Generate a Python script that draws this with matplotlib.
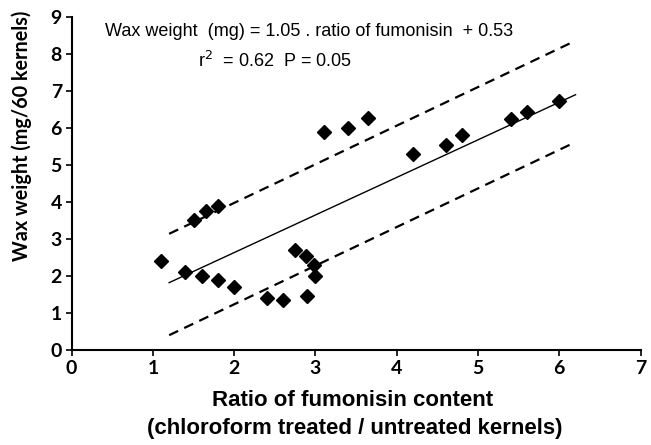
import matplotlib
matplotlib.use('Agg')
import matplotlib.pyplot as plt
import numpy as np

# data
ratio = [1.1, 1.4, 1.5, 1.6, 1.65, 1.8, 1.8, 2.0, 2.4, 2.6, 2.75, 2.88, 2.9, 2.98, 3.0,
         3.1, 3.4, 3.65, 4.2, 4.6, 4.8, 5.4, 5.6, 6.0]
wax = [2.4, 2.1, 3.5, 2.0, 3.75, 3.9, 1.9, 1.7, 1.4, 1.35, 2.7, 2.55, 1.45, 2.3, 2.0,
       5.9, 6.0, 6.27, 5.3, 5.55, 5.8, 6.25, 6.42, 6.72]

line_x = [1.2, 6.2]
fit_y = [1.82, 6.9]
upper_y = [3.14, 8.36]
lower_y = [0.40, 5.62]

xticks = [0, 1, 2, 3, 4, 5, 6, 7]
yticks = [0, 1, 2, 3, 4, 5, 6, 7, 8, 9]

eq_text = "Wax weight  (mg) = 1.05 . ratio of fumonisin  + 0.53"
r2_text = r"r$^{2}$  = 0.62  P = 0.05"

tickFont = 'Lato'
labelFont = 'Liberation Sans'
plainFont = 'Liberation Sans'

fig = plt.figure(figsize=(6.51, 4.45), dpi=100)
ax = fig.add_axes([0.110, 0.2135, 0.874, 0.7483])

ax.plot(line_x, upper_y, color='black', linestyle=(0, (4.5, 3)), linewidth=1.6)
ax.plot(line_x, lower_y, color='black', linestyle=(0, (4.5, 3)), linewidth=1.6)
ax.plot(line_x, fit_y, color='black', linewidth=1.0)
ax.plot(ratio, wax, linestyle='none', marker='D', markersize=7.5, color='black')

ax.set_xlim(0, 7)
ax.set_ylim(0, 9)
ax.set_xticks(xticks)
ax.set_yticks(yticks)
ax.set_xticklabels([str(t) for t in xticks], fontfamily=tickFont, fontweight='bold', fontsize=14)
ax.set_yticklabels([str(t) for t in yticks], fontfamily=tickFont, fontweight='bold', fontsize=14)
ax.tick_params(direction='out', length=4, width=1.2, color='black', pad=3)

for side in ['top', 'right']:
    ax.spines[side].set_visible(False)
for side in ['left', 'bottom']:
    ax.spines[side].set_linewidth(1.5)

ax.set_ylabel('Wax weight (mg/60 kernels)', fontfamily=tickFont, fontweight='bold', fontsize=14.2)
ax.yaxis.set_label_coords(-0.070, 0.643)

ax.text(0.493, -0.153, 'Ratio of fumonisin content', transform=ax.transAxes, ha='center', va='center',
        fontfamily=labelFont, fontweight='bold', fontsize=16)
ax.text(0.498, -0.237, '(chloroform treated / untreated kernels)', transform=ax.transAxes, ha='center',
        va='center', fontfamily=labelFont, fontweight='bold', fontsize=16)

ax.text(0.41, 8.62, eq_text, ha='left', va='center', fontfamily=plainFont, fontsize=13)
ax.text(1.55, 7.82, r2_text, ha='left', va='center', fontfamily=plainFont, fontsize=13)

fig.savefig('out.png', dpi=100)
